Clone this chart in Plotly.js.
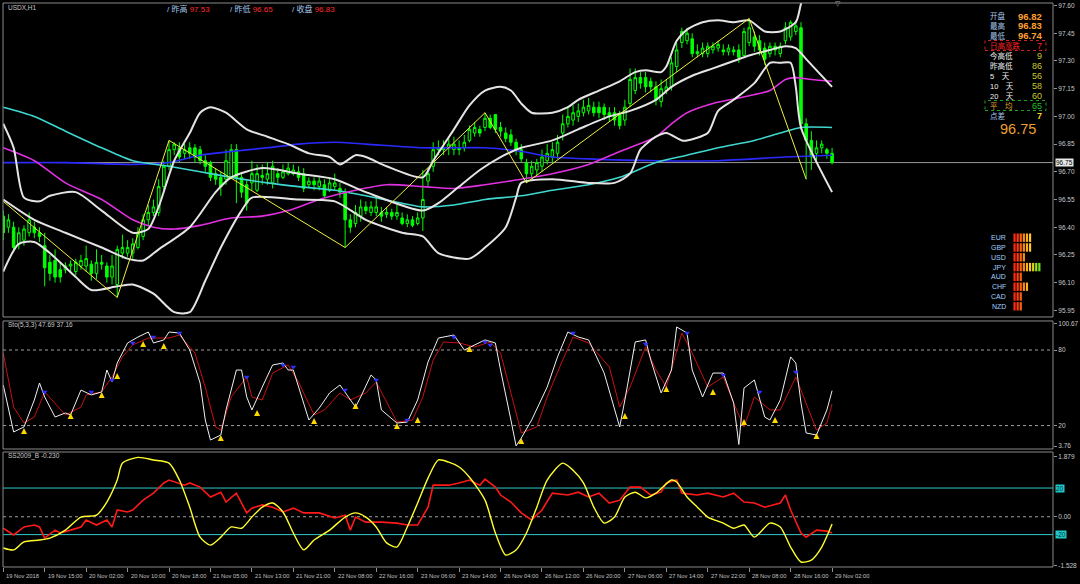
<!DOCTYPE html>
<html><head><meta charset="utf-8">
<script src="https://cdn.plot.ly/plotly-3.0.1.min.js"></script>
<style>html,body{margin:0;padding:0;background:#000;}#chart{width:1080px;height:584px;}</style>
</head><body><div id="chart"></div>
<script>
// ---------- DATA ----------
const xTickIdx = [0,8,16,24,32,40,48,56,64,72,80,88,96,104,112,120,128,136,144,152,160];
const xTickText = ['19 Nov 2018','19 Nov 15:00','20 Nov 02:00','20 Nov 10:00','20 Nov 18:00','21 Nov 05:00','21 Nov 13:00','21 Nov 21:00','22 Nov 08:00','22 Nov 16:00','23 Nov 06:00','23 Nov 14:00','26 Nov 04:00','26 Nov 12:00','26 Nov 20:00','27 Nov 06:00','27 Nov 14:00','27 Nov 22:00','28 Nov 08:00','28 Nov 16:00','29 Nov 02:00'];

const openP = [96.46,96.40,96.40,96.31,96.33,96.37,96.40,96.37,96.30,96.21,96.22,96.17,96.17,
96.19,96.16,96.19,96.19,96.20,96.15,96.21,96.19,96.13,96.09,
96.26,96.26,96.26,96.29,96.35,96.44,96.48,96.48,96.62,96.73,
96.82,96.83,96.80,
96.83,96.83,96.82,96.76,96.75,96.69,96.67,96.66,96.67,96.82,
96.67,96.63,96.64,96.60,96.68,96.66,96.64,96.69,96.67,96.69,
96.69,96.70,96.69,96.63,96.65,96.62,96.63,96.60,96.62,96.61,
96.59,96.44,96.42,96.46,96.51,96.48,96.48,96.48,96.47,
96.48,96.46,96.45,96.42,96.44,96.42,96.45,96.65,96.73,96.82,
96.83,96.83,96.82,96.83,96.83,96.87,96.91,96.93,96.94,96.99,
97.01,96.94,96.91,96.90,96.86,96.82,96.75,96.69,96.71,96.73,
96.76,96.78,96.80,96.91,96.96,96.98,97.00,97.02,
97.03,97.05,97.05,97.05,97.02,97.02,97.01,96.98,97.07,97.14,
97.21,97.21,97.19,97.16,97.08,97.14,97.16,97.27,97.40,97.41,
97.42,97.35,97.34,97.34,97.36,97.37,
97.36,97.35,97.36,97.36,97.33,97.40,97.43,97.41,97.37,97.34,
97.38,97.34,97.41,97.43,97.46,97.48,96.96,96.87,96.80,96.83,
96.82,96.80];
const closeP = [96.37,96.44,96.29,96.37,96.39,96.44,96.37,96.35,96.18,96.15,96.13,96.13,96.19,
96.20,96.21,96.22,96.23,96.15,96.21,96.20,96.13,96.19,96.28,
96.29,96.29,96.31,96.37,96.44,96.48,96.51,96.62,96.73,96.82,
96.85,96.78,96.82,
96.80,96.78,96.76,96.73,96.67,96.66,96.62,96.76,96.82,96.67,
96.59,96.53,96.69,96.69,96.67,96.69,96.73,96.67,96.70,96.72,
96.71,96.67,96.61,96.65,96.63,96.65,96.57,96.64,96.64,96.59,
96.44,96.40,96.48,96.51,96.49,96.51,96.51,96.46,96.48,
96.46,96.48,96.42,96.44,96.41,96.45,96.55,96.69,96.82,96.83,
96.82,96.85,96.85,96.82,96.86,96.93,96.94,96.91,96.99,96.94,
96.93,96.92,96.88,96.86,96.82,96.77,96.69,96.73,96.75,96.78,
96.80,96.82,96.86,96.96,97.00,97.02,97.03,97.05,
97.06,97.02,97.02,97.01,97.00,96.98,96.95,97.05,97.20,97.21,
97.18,97.16,97.16,97.09,97.15,97.16,97.29,97.36,97.46,97.45,
97.34,97.34,97.37,97.38,97.38,97.39,
97.35,97.37,97.35,97.32,97.46,97.48,97.38,97.36,97.31,97.38,
97.36,97.38,97.48,97.51,97.49,96.96,96.87,96.78,96.83,96.85,
96.80,96.75];
const highP = [96.49,96.47,96.43,96.40,96.41,96.48,96.43,96.40,96.37,96.25,96.28,96.21,96.21,
96.22,96.23,96.25,96.30,96.22,96.28,96.25,96.21,96.25,96.30,
96.36,96.33,96.34,96.40,96.47,96.52,96.55,96.66,96.76,96.87,
96.86,96.86,96.85,
96.86,96.85,96.84,96.79,96.76,96.72,96.70,96.82,96.85,96.85,
96.70,96.66,96.76,96.74,96.74,96.75,96.76,96.72,96.74,96.75,
96.74,96.73,96.72,96.67,96.67,96.67,96.66,96.67,96.69,96.64,
96.61,96.47,96.52,96.55,96.54,96.54,96.57,96.51,96.51,
96.50,96.52,96.48,96.47,96.46,96.48,96.71,96.72,96.86,96.87,
96.87,96.88,96.89,96.87,96.90,96.95,96.97,96.95,97.02,97.01,
97.01,96.97,96.94,96.93,96.88,96.85,96.77,96.76,96.77,96.82,
96.85,96.86,96.90,97.01,97.05,97.06,97.07,97.09,
97.10,97.08,97.08,97.07,97.05,97.05,97.03,97.09,97.26,97.26,
97.24,97.24,97.21,97.19,97.20,97.20,97.32,97.40,97.48,97.48,
97.45,97.39,97.40,97.40,97.40,97.41,
97.39,97.39,97.38,97.39,97.48,97.53,97.46,97.44,97.40,97.40,
97.40,97.40,97.51,97.52,97.52,97.51,96.99,96.92,96.87,96.87,
96.83,96.83];
const lowP = [96.33,96.37,96.27,96.28,96.30,96.35,96.34,96.32,96.08,96.11,96.10,96.10,96.15,
96.16,96.14,96.17,96.16,96.11,96.12,96.17,96.10,96.09,96.02,
96.23,96.24,96.23,96.28,96.33,96.41,96.46,96.46,96.60,96.71,
96.79,96.75,96.77,
96.77,96.75,96.74,96.70,96.65,96.63,96.57,96.63,96.66,96.53,
96.56,96.49,96.60,96.59,96.63,96.63,96.61,96.64,96.66,96.68,
96.68,96.65,96.59,96.61,96.60,96.60,96.56,96.59,96.60,96.56,
96.29,96.37,96.40,96.43,96.47,96.46,96.46,96.43,96.45,
96.44,96.44,96.41,96.40,96.40,96.41,96.38,96.62,96.70,96.79,
96.79,96.79,96.79,96.79,96.81,96.86,96.89,96.89,96.92,96.93,
96.91,96.89,96.86,96.84,96.79,96.75,96.64,96.66,96.68,96.70,
96.74,96.75,96.77,96.87,96.94,96.95,96.97,97.00,
97.01,97.00,96.99,96.98,96.97,96.95,96.93,96.95,97.05,97.12,
97.15,97.13,97.13,97.06,97.05,97.12,97.14,97.24,97.37,97.39,
97.32,97.32,97.32,97.32,97.34,97.35,
97.33,97.33,97.33,97.29,97.33,97.38,97.35,97.33,97.28,97.32,
97.33,97.32,97.39,97.41,97.44,96.93,96.66,96.71,96.76,96.80,
96.77,96.74];

const bbUpIdx = [0,2,4,7,9,14,19,25,28,30,33,36,38,40,43,47,51,55,59,63,65,68,70,74,81,83,87,90,93,96,98,100,102,106,109,111,115,119,122,124,127,128,130,132,135,138,141,144,147,150,153,154,156,160];
const bbUpVal = [96.96,96.83,96.56,96.54,96.57,96.59,96.49,96.37,96.39,96.51,96.76,96.91,97.02,97.05,97.02,96.93,96.89,96.85,96.80,96.78,96.74,96.79,96.78,96.73,96.67,96.76,96.93,97.06,97.14,97.16,97.14,97.07,97.02,97.02,97.05,97.09,97.14,97.19,97.24,97.25,97.24,97.27,97.41,97.47,97.51,97.52,97.51,97.52,97.46,97.46,97.51,97.61,97.80,98.00];
const bbMidIdx = [0,6,12,19,24,27,30,36,41,44,50,57,64,70,81,84,88,92,96,100,106,111,117,121,126,129,133,137,141,144,148,151,153,155,160];
const bbMidVal = [96.55,96.44,96.37,96.29,96.23,96.22,96.28,96.40,96.59,96.67,96.72,96.69,96.66,96.59,96.49,96.53,96.62,96.71,96.78,96.83,96.87,96.93,97.00,97.03,97.09,97.16,97.22,97.26,97.30,97.33,97.36,97.38,97.37,97.31,97.16];
const bbLowIdx = [0,3,6,9,14,17,22,25,29,33,36,39,42,46,48,57,64,70,77,81,84,90,93,97,99,100,106,113,118,121,123,126,128,131,132,136,138,141,145,148,150,152,153,154,160];
const bbLowVal = [96.16,96.31,96.32,96.26,96.13,96.06,96.08,96.09,96.04,95.94,95.94,96.11,96.29,96.49,96.56,96.55,96.54,96.44,96.37,96.35,96.26,96.23,96.29,96.40,96.56,96.64,96.66,96.64,96.64,96.69,96.82,96.89,96.91,96.87,96.87,96.91,97.03,97.09,97.18,97.29,97.29,97.29,97.16,96.94,96.59];
const maCyanIdx = [0,6,12,19,25,32,38,44,51,57,64,70,77,81,87,93,100,106,113,119,126,132,138,145,150,154,160];
const maCyanVal = [97.05,97.00,96.92,96.83,96.76,96.73,96.70,96.67,96.64,96.62,96.60,96.57,96.53,96.51,96.52,96.55,96.57,96.60,96.63,96.67,96.75,96.79,96.83,96.87,96.91,96.94,96.94];
const maMagIdx = [0,6,12,19,25,29,33,38,44,50,55,61,68,74,81,87,93,100,106,113,119,126,129,132,137,142,148,151,153,156,160];
const maMagVal = [96.83,96.76,96.64,96.55,96.44,96.40,96.39,96.41,96.45,96.46,96.49,96.55,96.60,96.63,96.62,96.61,96.63,96.66,96.69,96.74,96.81,96.89,96.96,97.02,97.07,97.10,97.14,97.20,97.21,97.20,97.19];
const maBlueIdx = [0,12,25,32,38,44,51,57,64,70,81,87,93,100,106,113,126,138,151,160];
const maBlueVal = [96.75,96.75,96.74,96.75,96.79,96.81,96.83,96.85,96.86,96.85,96.83,96.83,96.83,96.81,96.78,96.77,96.76,96.76,96.78,96.79];
const zigIdx = [0,22,32,66,93,101,144,155];
const zigVal = [96.54,96.02,96.87,96.29,97.02,96.64,97.53,96.66];
const bidPrice = 96.75;
const mainTicks = [97.60,97.45,97.30,97.15,97.00,96.85,96.70,96.55,96.40,96.25,96.10,95.95];

const stoKIdx = [0,2,4,6,7,8,10,12,13,15,17,19,20,21,22,24,26,28,29,31,32,34,36,38,39,40,42,43,45,46,47,48,50,52,54,55,56,58,59,61,63,65,68,69,71,72,73,76,78,80,82,84,87,89,92,93,95,96,98,99,100,102,105,107,109,111,113,116,119,120,122,124,125,127,129,130,132,133,135,137,139,141,142,143,145,147,148,150,152,153,154,155,157,159,160];
const stoKVal = [52.2,14.9,18.9,40.3,53.8,42.7,26.8,30.0,28.4,48.2,44.3,46.7,64.1,54.6,69.7,85.6,90.3,94.3,85.6,88.0,94.3,93.5,80.0,53.8,24.4,8.5,12.5,32.4,64.1,64.1,42.7,32.4,50.6,68.1,69.7,64.1,64.1,37.9,24.4,33.9,45.9,52.2,34.7,42.7,60.2,56.2,32.4,22.0,22.8,40.3,70.5,89.5,91.9,80.0,85.6,88.0,85.6,64.1,24.4,3.8,10.1,24.4,50.6,74.5,94.3,90.3,88.0,61.7,18.9,40.3,86.4,88.0,72.1,45.9,64.1,98.3,93.5,64.1,42.7,61.7,61.7,37.9,5.0,49.8,56.2,26.8,24.4,40.3,74.5,69.7,37.9,14.1,12.5,32.4,47.69];
const stoDIdx = [0,2,4,6,8,10,12,15,16,19,21,23,25,28,32,34,37,39,41,42,44,47,48,50,52,55,57,60,62,65,67,70,72,74,76,79,81,83,85,88,91,94,96,98,100,103,105,108,110,113,117,119,121,124,126,128,131,133,136,139,141,143,145,148,150,153,155,157,159,160];
const stoDVal = [77.6,34.7,22.0,26.8,46.7,37.9,28.4,34.7,44.3,46.7,58.6,74.5,84.0,89.5,89.5,91.9,77.6,50.6,18.9,16.5,42.7,58.6,42.7,40.3,61.7,68.1,54.6,28.4,32.4,45.9,40.3,45.9,54.6,38.7,22.8,24.4,42.7,72.1,86.4,85.6,82.4,86.4,77.6,45.9,14.1,18.9,42.7,72.1,90.3,85.6,66.5,34.7,50.6,82.4,64.1,50.6,93.5,77.6,50.6,58.6,37.9,18.9,42.7,32.4,32.4,58.6,37.9,16.5,22.0,37.16];
const sigDnIdx = [8,17,21,25,29,34,47,54,56,66,72,78,87,93,94,110,124,132,139,146,153];
const sigDnVal = [46.7,46.7,56.2,85.6,90.3,93.5,58.6,68.1,66.5,48.2,56.2,24.4,90.3,86.4,84.0,93.5,84.8,93.5,60.2,46.7,62.5];
const sigUpIdx = [4,13,19,22,27,31,42,49,60,68,76,80,90,100,120,128,137,143,149,157];
const sigUpVal = [18.1,30.0,46.7,61.7,87.2,85.6,12.5,32.4,26.0,37.9,22.0,26.8,83.2,10.1,30.0,51.4,49.0,25.2,26.8,14.1];
const stoTicks = [100.67,80,20,3.76];
const stoLevels = [80,20];

const ssYIdx = [0,2,4,7,9,12,15,18,20,22,23,26,29,32,34,36,38,40,42,44,46,48,50,52,54,56,58,60,63,66,68,70,72,74,76,78,80,82,84,86,88,90,93,95,97,99,101,103,105,108,110,112,114,116,118,120,122,124,126,129,130,132,134,136,139,141,143,145,148,150,152,154,156,158,160];
const ssYVal = [-0.98,-1.04,-0.79,-0.73,-0.67,-0.42,-0.01,0.05,0.46,1.15,1.68,1.86,1.78,1.68,1.15,0.30,-0.64,-0.89,-0.64,-0.32,-0.36,-0.01,0.30,0.43,0.15,-0.51,-1.04,-0.73,-0.42,-0.01,0.12,-0.01,-0.32,-0.82,-0.95,-0.32,0.43,1.21,1.78,1.71,1.56,1.24,0.52,-0.51,-1.20,-1.04,-0.51,0.30,1.15,1.68,1.46,1.06,0.30,-0.20,-0.01,0.62,0.77,0.59,0.74,1.15,1.09,0.62,0.30,-0.01,-0.20,-0.36,-0.26,-0.64,-0.20,-0.32,-0.95,-1.42,-1.36,-0.95,-0.23];
const ssRIdx = [0,2,4,6,7,8,10,11,13,15,16,18,20,21,22,24,25,27,29,31,32,35,36,38,40,42,43,45,47,48,50,52,54,56,58,61,64,66,67,68,70,73,76,78,80,82,83,86,88,90,92,93,95,96,98,100,102,103,104,106,109,111,113,115,117,119,121,123,125,127,128,130,131,134,136,139,141,143,145,147,150,151,152,154,155,157,159,160];
const ssRVal = [-0.36,-0.57,-0.32,-0.26,-0.32,-0.67,-0.42,-0.51,-0.42,-0.32,-0.10,-0.26,-0.10,-0.32,0.21,0.15,0.21,0.52,0.74,1.06,1.15,0.99,1.06,0.93,0.62,0.77,0.46,0.74,0.12,0.27,0.37,0.30,0.15,0.27,0.12,0.12,-0.04,0.05,-0.42,-0.01,-0.17,-0.17,-0.20,-0.26,-0.26,0.30,0.99,0.99,1.06,1.15,0.99,1.18,0.93,0.68,0.46,0.12,-0.10,0.05,0.21,0.74,0.68,0.77,0.62,0.74,0.43,0.52,0.93,0.93,0.68,0.77,1.06,1.15,0.74,0.68,0.74,0.62,0.74,0.46,0.43,0.30,0.43,0.68,0.21,-0.51,-0.64,-0.42,-0.45,-0.51];
const ssTicks = [1.879,0,-1.528];
const ssBands = [0.90,-0.56];
const ssBandText = ['20','-20'];

const headerLabels = ['昨高','昨低','收盘'];
const headerValues = [97.53,96.65,96.83];
const infoLabels = ['开盘','最高','最低','日高涨跌','今高低','昨高低','5 天','10 天','20 天','平 均','点差'];
const infoValues = ['96.82','96.83','96.74','7','9','86','56','58','60','65','7'];
const lastPrice = '96.75';
const currencies = ['EUR','GBP','USD','JPY','AUD','CHF','CAD','NZD'];
const strength = [6,6,4,9,3,5,3,3];

// ---------- LAYOUT HELPERS ----------
const fx = px => (px - 3) / 1050;
const fy = py => (567 - py) / 564;
const CJK = 'Liberation Sans, Noto Sans CJK SC, sans-serif';
const idx = openP.map((_, i) => i);

const traces = [];
traces.push({type:'candlestick', x:idx, open:openP, high:highP, low:lowP, close:closeP,
  xaxis:'x', yaxis:'y', whiskerwidth:0, hoverinfo:'skip',
  increasing:{line:{color:'#00ff00',width:1}, fillcolor:'#000000'},
  decreasing:{line:{color:'#00ff00',width:1}, fillcolor:'#00ff00'}});
const line = (x,y,color,width,ya,shape) => ({type:'scatter',mode:'lines',x:x,y:y,xaxis:'x',yaxis:ya,
  line:{color:color,width:width,shape:shape||'spline',smoothing:0.7},hoverinfo:'skip'});
traces.push(line(maBlueIdx,maBlueVal,'#2a2aff',1.6,'y'));
traces.push(line(maCyanIdx,maCyanVal,'#3fd8d0',1.6,'y'));
traces.push(line(maMagIdx,maMagVal,'#e030e0',1.6,'y'));
traces.push(line(bbUpIdx,bbUpVal,'#e4e4e4',2,'y'));
traces.push(line(bbMidIdx,bbMidVal,'#e4e4e4',2,'y'));
traces.push(line(bbLowIdx,bbLowVal,'#e4e4e4',2,'y'));
traces.push(line(zigIdx,zigVal,'#f0f040',1,'y','linear'));

traces.push(line(stoDIdx,stoDVal,'#c81010',1,'y2','linear'));
traces.push(line(stoKIdx,stoKVal,'#f0f0f0',1,'y2','linear'));
traces.push({type:'scatter',mode:'markers',x:sigDnIdx,y:sigDnVal,xaxis:'x',yaxis:'y2',hoverinfo:'skip',
  marker:{symbol:'triangle-down',size:5,color:'#3030ff'}});
traces.push({type:'scatter',mode:'markers',x:sigUpIdx,y:sigUpVal,xaxis:'x',yaxis:'y2',hoverinfo:'skip',
  marker:{symbol:'arrow-up',size:6,color:'#ffd800',line:{width:0}}});

traces.push(line(ssRIdx,ssRVal,'#ff1a1a',1.6,'y3','linear'));
traces.push(line(ssYIdx,ssYVal,'#ffff30',1.4,'y3'));

// currency strength segments
const segColors = ['#ff2a10','#ff3c10','#ff6010','#ff8a10','#ffb020','#ffc820','#d8d820','#a0e020','#70e020'];
const segX=[], segY=[], segC=[];
strength.forEach((n,r)=>{ for(let k=0;k<n;k++){ segX.push(k); segY.push(r); segC.push(segColors[k]); } });
traces.push({type:'scatter',mode:'markers',x:segX,y:segY,xaxis:'x4',yaxis:'y4',hoverinfo:'skip',
  marker:{symbol:'line-ns',size:6,line:{color:segC,width:2.2}}});

// ---------- ANNOTATIONS ----------
const ann = [];
const txt = (x,y,text,opts) => Object.assign({x:x,y:y,xref:'paper',yref:'paper',text:text,showarrow:false,
  xanchor:'left',yanchor:'middle',font:{family:CJK,size:6.5,color:'#c8c8c8'}},opts||{});
ann.push(txt(fx(6),fy(8),'USDX,H1',{font:{family:CJK,size:6.5,color:'#c8c8c8'}}));
const hdrX = [165,228,290];
headerLabels.forEach((l,i)=>ann.push(txt(fx(hdrX[i]),fy(9),
  '/ '+l+' <span style="color:#ff2a2a">'+headerValues[i].toFixed(2)+'</span>',
  {font:{family:CJK,size:8,color:'#a8c8f0'}})));
ann.push(txt(fx(6),fy(325),'Sto(5,3,3) '+stoKVal[stoKVal.length-1].toFixed(2)+' '+stoDVal[stoDVal.length-1].toFixed(2)));
ann.push(txt(fx(6),fy(456),'SS2009_B '+ssYVal[ssYVal.length-1].toFixed(3)));
ann.push(txt(fx(838),fy(4),'▽',{xanchor:'center',font:{size:7,color:'#a0a0a0'}}));

const labCol = ['#a8c8f0','#a8c8f0','#a8c8f0','#ff2020','#f0f0f0','#f0f0f0','#f0f0f0','#f0f0f0','#f0f0f0','#e0a030','#a8c8f0'];
const valCol = ['#ffa030','#ffa030','#ffa030','#ff2020','#c8c830','#c8c830','#c8c830','#c8c830','#c8c830','#20c020','#ffd020'];
infoLabels.forEach((l,i)=>{
  const py = 16 + 10*i;
  ann.push(txt(fx(988),fy(py),l.replace(' ','\u2003'),{font:{family:CJK,size:7.5,color:labCol[i]}}));
  ann.push(txt(fx(1044),fy(py),infoValues[i],{xanchor:'right',font:{family:'Liberation Sans, sans-serif',size:i<3?9.5:9,color:valCol[i],weight:(i<3||i===10)?'bold':'normal'}}));
});
ann.push(txt(fx(1018),fy(129),lastPrice,{xanchor:'center',font:{family:'Liberation Sans, sans-serif',size:14.5,color:'#f0a030'}}));

currencies.forEach((c,i)=>ann.push({x:fx(1008),xref:'paper',y:i,yref:'y4',text:c,showarrow:false,xanchor:'right',yanchor:'middle',
  font:{family:'Liberation Sans, sans-serif',size:7,color:'#a0d0ff'}}));

xTickIdx.forEach((v,i)=>ann.push({x:v,xref:'x',y:fy(575.5),yref:'paper',text:xTickText[i],showarrow:false,
  xanchor:'left',yanchor:'middle',xshift:1,font:{family:'Liberation Sans, sans-serif',size:5.8,color:'#c0c0c0'}}));

ann.push({x:1,xref:'paper',y:bidPrice,yref:'y',text:bidPrice.toFixed(2),showarrow:false,xanchor:'left',yanchor:'middle',
  xshift:2,bgcolor:'#e8e8e8',borderpad:0,font:{family:'Liberation Sans, sans-serif',size:6.5,color:'#000'}});
ssBands.forEach((b,i)=>ann.push({x:1,xref:'paper',y:b,yref:'y3',text:ssBandText[i],showarrow:false,xanchor:'left',yanchor:'middle',
  xshift:2,bgcolor:'#20c8c8',borderpad:0,font:{family:'Liberation Sans, sans-serif',size:6.5,color:'#003030'}}));

// ---------- SHAPES ----------
const shapes = [];
const dMain=[0.4433,1], dSto=[0.2092,0.4362], dSS=[0,0.2039];
[dMain,dSto,dSS].forEach(d=>shapes.push({type:'rect',xref:'paper',yref:'paper',x0:0,x1:1,y0:d[0],y1:d[1],
  line:{color:'#8a8a8a',width:1},layer:'above'}));
shapes.push({type:'line',xref:'paper',yref:'y',x0:0,x1:1,y0:bidPrice,y1:bidPrice,line:{color:'#9a9a9a',width:1},layer:'below'});
stoLevels.forEach(v=>shapes.push({type:'line',xref:'paper',yref:'y2',x0:0,x1:1,y0:v,y1:v,line:{color:'#a0a0a0',width:1,dash:'dot'},layer:'below'}));
shapes.push({type:'line',xref:'paper',yref:'y3',x0:0,x1:1,y0:0,y1:0,line:{color:'#a0a0a0',width:1,dash:'dot'},layer:'below'});
ssBands.forEach(v=>shapes.push({type:'line',xref:'paper',yref:'y3',x0:0,x1:1,y0:v,y1:v,line:{color:'#30c8c8',width:1},layer:'below'}));
shapes.push({type:'rect',xref:'paper',yref:'paper',x0:fx(985),x1:fx(1046),y0:fy(50.5),y1:fy(40.5),line:{color:'#d02020',width:1,dash:'dot'}});
shapes.push({type:'rect',xref:'paper',yref:'paper',x0:fx(985),x1:fx(1046),y0:fy(110.5),y1:fy(100.5),line:{color:'#20a020',width:1,dash:'dot'}});

const yax = (dom,rng,tv,tt) => ({domain:dom,range:rng,side:'right',anchor:'x',tickvals:tv,ticktext:tt,
  ticks:'outside',ticklen:3,tickcolor:'#909090',showgrid:false,zeroline:false,showline:false,fixedrange:true,
  tickfont:{family:'Liberation Sans, sans-serif',size:6.5,color:'#c8c8c8'}});

const layout = {
  width:1080,height:584,paper_bgcolor:'#000000',plot_bgcolor:'#000000',
  margin:{l:3,r:27,t:3,b:17},showlegend:false,dragmode:false,
  xaxis:{domain:[0,1],anchor:'y3',range:[-0.05,202.65],tickvals:xTickIdx,showticklabels:false,ticks:'outside',
    ticklen:4,tickcolor:'#909090',showgrid:false,zeroline:false,showline:false,rangeslider:{visible:false},fixedrange:true},
  yaxis:yax(dMain,[95.914,97.614],mainTicks,mainTicks.map(v=>v.toFixed(2))),
  yaxis2:yax(dSto,[1.38,103.05],stoTicks,stoTicks.map(v=>String(v))),
  yaxis3:yax(dSS,[-1.576,2.03],ssTicks,ssTicks.map(v=>v===0?'0.00':String(v))),
  xaxis4:{domain:[fx(1013),1],anchor:'y4',range:[-0.5,12.4],visible:false,fixedrange:true},
  yaxis4:{domain:[fy(312),fy(232)],anchor:'x4',range:[7.58,-0.58],visible:false,fixedrange:true},
  annotations:ann,shapes:shapes
};
Plotly.newPlot('chart',traces,layout,{staticPlot:true,displayModeBar:false});
</script>
</body></html>
